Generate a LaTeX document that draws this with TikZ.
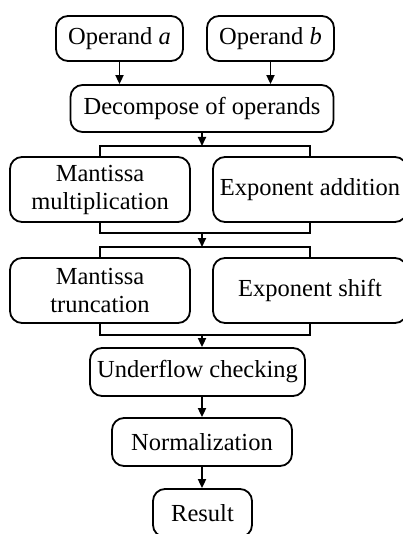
\documentclass[tikz,border=0pt]{standalone}
\usepackage{fontspec}
\setmainfont{Liberation Serif}
\usetikzlibrary{arrows.meta}
\begin{document}
\begin{tikzpicture}[x=1pt,y=-1pt,
  box/.style={draw,line width=1.8pt,rounded corners=12pt,align=center,inner sep=0pt,
    font=\fontsize{24.5}{28}\selectfont},
  conn/.style={line width=1.8pt},
  arr/.style={line width=1.8pt,-{Triangle[length=9pt,width=8pt]}}]
\useasboundingbox (0,0) rectangle (403,534);
\clip (0,0) rectangle (403,534);
\node[box,minimum width=127pt,minimum height=45pt] (opa) at (119.5,38.5) {Operand \textit{a}};
\node[box,minimum width=127pt,minimum height=45pt] (opb) at (270.5,38.5) {Operand \textit{b}};
\node[box,minimum width=263pt,minimum height=47pt] (dec) at (202,108.5) {Decompose of operands};
\node[box,minimum width=180pt,minimum height=65pt] (mm) at (100,189.5) {Mantissa\\multiplication};
\node[box,minimum width=194pt,minimum height=65pt] (ea) at (310,189.5) {Exponent addition};
\node[box,minimum width=180pt,minimum height=65pt] (mt) at (100,290.5) {Mantissa\\truncation};
\node[box,minimum width=194pt,minimum height=65pt] (es) at (310,290.5) {Exponent shift};
\node[box,minimum width=215pt,minimum height=48pt] (uf) at (197.5,372) {Underflow checking};
\node[box,minimum width=180pt,minimum height=48pt] (nm) at (202,442) {Normalization};
\node[box,minimum width=99pt,minimum height=48pt] (res) at (202.5,513) {Result};
\coordinate (b1) at (202,146);
\coordinate (b2) at (202,233);
\coordinate (b3) at (202,247);
\coordinate (b4) at (202,335);
\draw[arr] (opa.south) -- (opa.south |- dec.north);
\draw[arr] (opb.south) -- (opb.south |- dec.north);
\draw[arr] (dec.south -| b1) -- (b1);
\draw[conn] (mm.north) -- (mm.north |- b1) -- (ea.north |- b1) -- (ea.north);
\draw[conn] (mm.south) -- (mm.south |- b2) -- (ea.south |- b2) -- (ea.south);
\draw[arr] (b2) -- (b3);
\draw[conn] (mt.north) -- (mt.north |- b3) -- (es.north |- b3) -- (es.north);
\draw[conn] (mt.south) -- (mt.south |- b4) -- (es.south |- b4) -- (es.south);
\draw[arr] (b4) -- (b4 |- uf.north);
\draw[arr] (uf.south -| nm.north) -- (nm.north);
\draw[arr] (nm.south) -- (nm.south |- res.north);
\end{tikzpicture}
\end{document}
